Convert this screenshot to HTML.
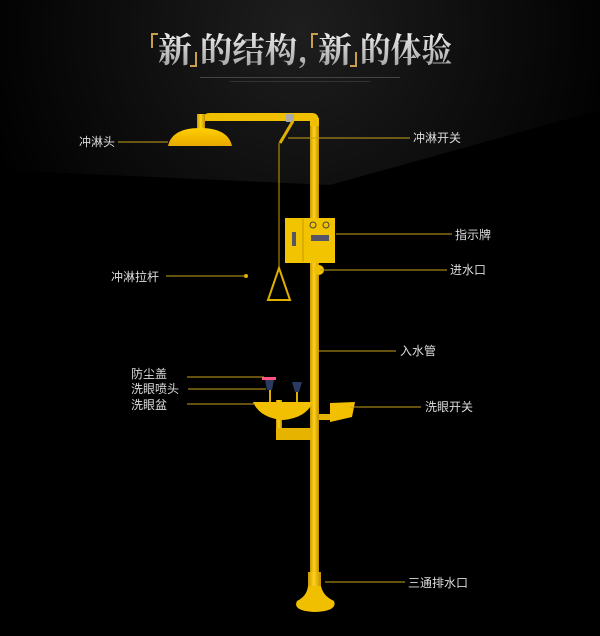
<!DOCTYPE html>
<html><head><meta charset="utf-8"><style>
html,body{margin:0;padding:0;background:#000;}
body{width:600px;height:636px;overflow:hidden;position:relative;font-family:"Liberation Sans","Noto Sans CJK SC",sans-serif;}
</style></head><body>
<svg width="600" height="636" viewBox="0 0 600 636" xmlns="http://www.w3.org/2000/svg" style="position:absolute;left:0;top:0">
<defs>
<radialGradient id="bg" cx="300" cy="30" r="330" gradientUnits="userSpaceOnUse">
<stop offset="0" stop-color="#1e1e1e"/><stop offset="0.6" stop-color="#0c0c0c"/><stop offset="1" stop-color="#000"/>
</radialGradient>
<linearGradient id="ttl" x1="0" y1="0" x2="0" y2="1">
<stop offset="0" stop-color="#ffffff"/><stop offset="1" stop-color="#9a9a9a"/>
</linearGradient>
<linearGradient id="pipe" x1="0" y1="0" x2="1" y2="0">
<stop offset="0" stop-color="#c99a00"/><stop offset="0.45" stop-color="#ffd21a"/><stop offset="1" stop-color="#c38f00"/>
</linearGradient>
<linearGradient id="dome" x1="0" y1="0" x2="0" y2="1">
<stop offset="0" stop-color="#ffd000"/><stop offset="1" stop-color="#e8a800"/>
</linearGradient>
</defs>
<rect width="600" height="636" fill="#000"/>
<polygon points="0,0 600,0 600,110 330,185 0,170" fill="url(#bg)"/>
<!-- title -->
<g font-family="'Noto Serif CJK SC',serif" font-size="34" font-weight="bold" fill="url(#ttl)">
<text x="158" y="62">新</text>
<text x="200" y="62" textLength="108" lengthAdjust="spacingAndGlyphs">的结构,</text>
<text x="318" y="62">新</text>
<text x="360" y="62" textLength="92" lengthAdjust="spacingAndGlyphs">的体验</text>
</g>
<path d="M152 48 V34 H158" stroke="#c8a04a" stroke-width="2" fill="none"/>
<path d="M196 52 V66 H190" stroke="#c8a04a" stroke-width="2" fill="none"/>
<path d="M312 48 V34 H318" stroke="#c8a04a" stroke-width="2" fill="none"/>
<path d="M356 52 V66 H350" stroke="#c8a04a" stroke-width="2" fill="none"/>
<rect x="200" y="77" width="200" height="1" fill="#444"/>
<rect x="230" y="81" width="140" height="1" fill="#333"/>
<!-- pipes -->
<rect x="310" y="118" width="9" height="482" fill="url(#pipe)"/>
<rect x="308" y="572" width="13" height="14" fill="url(#pipe)"/>
<path d="M204 117 Q204 113 210 113 H312 Q319 113 319 122 V126 H310 V121 H204 Z" fill="#f0c000"/>
<rect x="197" y="114" width="8" height="18" fill="url(#pipe)"/>
<rect x="286" y="114" width="8" height="8" fill="#aaa"/>
<path d="M168 146 Q172 128 200 128 Q228 128 232 146 Z" fill="url(#dome)"/>
<!-- pull rod -->
<line x1="293" y1="121" x2="280" y2="143" stroke="#e0b000" stroke-width="3"/>
<line x1="279" y1="143" x2="279" y2="270" stroke="#caa000" stroke-width="1"/>
<polygon points="279,268 268,300 290,300" fill="none" stroke="#e0b000" stroke-width="2"/>
<!-- sign -->
<rect x="285" y="218" width="50" height="45" fill="#f2c400"/>
<line x1="303" y1="219" x2="303" y2="262" stroke="#c79800" stroke-width="1"/>
<rect x="292" y="232" width="4" height="14" fill="#556"/>
<circle cx="313" cy="225" r="3" fill="none" stroke="#444"/><circle cx="326" cy="225" r="3" fill="none" stroke="#444"/>
<rect x="311" y="235" width="18" height="6" fill="#556"/>
<circle cx="319" cy="270" r="5" fill="#f0c000"/>
<!-- eye wash -->
<rect x="276" y="400" width="6" height="40" fill="url(#pipe)"/>
<rect x="276" y="428" width="36" height="12" fill="#e6b300"/>
<path d="M253 402 H313 Q306 418 283 420 Q260 418 253 402 Z" fill="#f2c000"/>
<polygon points="265,380 274,380 272,390 267,390" fill="#2a3a60"/>
<rect x="262" y="377" width="14" height="3" fill="#ff5080"/>
<polygon points="292,382 302,382 299,392 295,392" fill="#2a3a60"/>
<rect x="269" y="390" width="2" height="12" fill="#e0b000"/>
<rect x="296" y="392" width="2" height="10" fill="#e0b000"/>
<rect x="319" y="414" width="12" height="6" fill="#e6b300"/>
<polygon points="330,403 355,402 352,417 330,422" fill="#f2c000"/>
<!-- base -->
<path d="M308 586 Q307 596 297 601 Q292 611 315 612 Q338 611 334 601 Q323 596 321 586 Z" fill="#f0c000"/>
<!-- leader lines -->
<g stroke="#c9a21a" stroke-width="1">
<line x1="118" y1="142" x2="168" y2="142"/>
<line x1="288" y1="138" x2="410" y2="138"/>
<line x1="336" y1="234" x2="452" y2="234"/>
<line x1="320" y1="270" x2="447" y2="270"/>
<line x1="166" y1="276" x2="246" y2="276"/>
<line x1="318" y1="351" x2="396" y2="351"/>
<line x1="187" y1="377" x2="264" y2="377"/>
<line x1="188" y1="389" x2="266" y2="389"/>
<line x1="187" y1="404" x2="255" y2="404"/>
<line x1="350" y1="407" x2="421" y2="407"/>
<line x1="325" y1="582" x2="405" y2="582"/>
</g>
<circle cx="246" cy="276" r="2" fill="#e0b000"/>
<g font-size="12" fill="#dcdcdc" font-family="'Liberation Sans','Noto Sans CJK SC',sans-serif">
<text x="79" y="146">冲淋头</text>
<text x="413" y="142">冲淋开关</text>
<text x="455" y="239">指示牌</text>
<text x="450" y="274">进水口</text>
<text x="111" y="281">冲淋拉杆</text>
<text x="400" y="355">入水管</text>
<text x="131" y="378">防尘盖</text>
<text x="131" y="393">洗眼喷头</text>
<text x="131" y="409">洗眼盆</text>
<text x="425" y="411">洗眼开关</text>
<text x="408" y="587">三通排水口</text>
</g>
</svg>
</body></html>
